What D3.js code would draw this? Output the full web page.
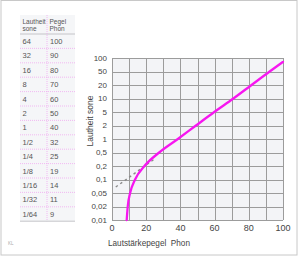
<!DOCTYPE html>
<html>
<head>
<meta charset="utf-8">
<script src="https://cdn.jsdelivr.net/npm/d3@7"></script>
<style>
  body { margin: 0; background: #fff; }
  svg { display: block; font-family: "Liberation Sans", Arial, sans-serif; }
</style>
</head>
<body>
<div id="chart"></div>
<script>
// table
var soneCol = ["64", "32", "16", "8", "4", "2", "1", "1/2", "1/4", "1/8", "1/16", "1/32", "1/64"]
var phonCol = ["100", "90", "80", "70", "60", "50", "40", "32", "25", "19", "14", "11", "9"]

// axes
var yTicks = [100, 50, 20, 10, 5, 2, 1, 0.5, 0.2, 0.1, 0.05, 0.02, 0.01]
var yTickLabels = ["100", "50", "20", "10", "5", "2", "1", "0,5", "0,2", "0,1", "0,05", "0,02", "0,01"]
var xTicks = [0, 20, 40, 60, 80, 100]

// curve (phon, sone)
var curvePhon = [8.6, 9.2, 10.6, 13.5, 19, 27.6, 38.5, 49.1, 59.8, 71, 81.6, 92.2, 100]
var curveSone = [0.01, 0.02, 0.05, 0.1, 0.2, 0.5, 1, 2, 5, 10, 20, 50, 82]
// dashed extension
var dashPhon = [2.2, 25.5]
var dashSone = [0.068, 0.34]

var W = 300, H = 257
var svg = d3.select('#chart').append('svg').attr('width', W).attr('height', H)

// frame
svg.append('rect').attr('x', 1).attr('y', 0.5).attr('width', 296).attr('height', 254.5)
  .attr('fill', 'none').attr('stroke', '#c8c8c8').attr('stroke-width', 1)

// ---- table ----
var tx0 = 20, tx1 = 47, tx2 = 75, tTop = 15, headH = 19, rowH = 14.4
var tBottom = tTop + headH + rowH * soneCol.length
var tbl = svg.append('g')
tbl.append('rect').attr('x', tx0).attr('y', tTop).attr('width', tx2 - tx0).attr('height', tBottom - tTop)
  .attr('fill', '#f5f6f8')
tbl.append('line').attr('x1', tx0).attr('x2', tx2).attr('y1', tTop + headH).attr('y2', tTop + headH)
  .attr('stroke', '#c4c4c8').attr('stroke-width', 1)
tbl.selectAll('.rowline').data(d3.range(1, soneCol.length)).enter().append('line')
  .attr('x1', tx0).attr('x2', tx2)
  .attr('y1', (i) => tTop + headH + i * rowH).attr('y2', (i) => tTop + headH + i * rowH)
  .attr('stroke', '#f0a8f0').attr('stroke-width', 0.8).attr('stroke-dasharray', '1,1')
tbl.append('line').attr('x1', tx1).attr('x2', tx1).attr('y1', tTop).attr('y2', tBottom)
  .attr('stroke', '#f0a8f0').attr('stroke-width', 0.8).attr('stroke-dasharray', '1,1')
tbl.append('line').attr('x1', tx0).attr('x2', tx2).attr('y1', tBottom).attr('y2', tBottom)
  .attr('stroke', '#c4c4c8').attr('stroke-width', 1)

var head = [["Lautheit", "sone"], ["Pegel", "Phon"]]
head.forEach((h, c) => {
  h.forEach((t, k) => {
    tbl.append('text').attr('x', (c == 0 ? tx0 : tx1) + 2.5).attr('y', tTop + 8.5 + k * 7)
      .attr('font-size', 6.5).attr('fill', '#555').text(t)
  })
})
tbl.selectAll('.c0').data(soneCol).enter().append('text')
  .attr('x', tx0 + 2.5).attr('y', (d, i) => tTop + headH + i * rowH + rowH / 2 + 2.8)
  .attr('font-size', 7.5).attr('fill', '#555').text((d) => d)
tbl.selectAll('.c1').data(phonCol).enter().append('text')
  .attr('x', tx1 + 3).attr('y', (d, i) => tTop + headH + i * rowH + rowH / 2 + 2.8)
  .attr('font-size', 7.5).attr('fill', '#555').text((d) => d)

svg.append('text').attr('x', 8).attr('y', 245).attr('font-size', 4.5).attr('fill', '#aaa').text('KL')

// ---- chart ----
var pLeft = 112, pRight = 283, pTop = 58, pBottom = 220
var scaleX = d3.scaleLinear().domain([0, 100]).range([pLeft, pRight])
var step = (pBottom - pTop) / (yTicks.length - 1)
var scaleY = d3.scaleLinear()
  .domain(yTicks.map((d) => Math.log10(d)))
  .range(yTicks.map((d, i) => pTop + i * step))
var yPos = (v) => scaleY(Math.log10(v))

svg.append('rect').attr('x', pLeft).attr('y', pTop).attr('width', pRight - pLeft).attr('height', pBottom - pTop)
  .attr('fill', '#f3f4f7')

var grid = svg.append('g').attr('stroke', '#9c9c9c').attr('stroke-width', 1)
grid.selectAll('.hg').data(yTicks).enter().append('line')
  .attr('x1', pLeft).attr('x2', pRight)
  .attr('y1', (d) => Math.round(yPos(d)) + 0.5).attr('y2', (d) => Math.round(yPos(d)) + 0.5)
grid.selectAll('.vg').data(d3.range(0, 101, 10)).enter().append('line')
  .attr('y1', pTop).attr('y2', pBottom)
  .attr('x1', (d) => Math.round(scaleX(d)) + 0.5).attr('x2', (d) => Math.round(scaleX(d)) + 0.5)

// y ticks
svg.selectAll('.ytl').data(yTicks).enter().append('text')
  .attr('x', 107).attr('y', (d) => yPos(d) + 2.9)
  .attr('text-anchor', 'end').attr('font-size', 8).attr('fill', '#444')
  .text((d, i) => yTickLabels[i])

// x ticks
svg.selectAll('.xtl').data(xTicks).enter().append('text')
  .attr('x', (d) => scaleX(d)).attr('y', 230.5)
  .attr('text-anchor', 'middle').attr('font-size', 9).attr('fill', '#444')
  .text((d) => d)

svg.append('text').attr('x', 108).attr('y', 246).attr('font-size', 8.2).attr('fill', '#444')
  .attr('xml:space', 'preserve').text('Lautstärkepegel  Phon')
svg.append('text').attr('transform', 'translate(93,121) rotate(-90)')
  .attr('text-anchor', 'middle').attr('font-size', 8.5).attr('fill', '#444').text('Lautheit sone')

// dashed extension
var dashData = dashPhon.map((p, i) => ({ phon: p, sone: dashSone[i] }))
var lineFunc = d3.line().x((d) => scaleX(d.phon)).y((d) => yPos(d.sone))
svg.append('path').attr('d', lineFunc(dashData))
  .attr('fill', 'none').attr('stroke', '#8a8a8a').attr('stroke-width', 1.4).attr('stroke-dasharray', '2.5,3')

// curve
var curveData = curvePhon.map((p, i) => ({ phon: p, sone: curveSone[i] }))
svg.append('path').attr('d', lineFunc.curve(d3.curveMonotoneX)(curveData))
  .attr('fill', 'none').attr('stroke', '#f716f0').attr('stroke-width', 2.3).attr('stroke-linecap', 'round')
</script>
</body>
</html>
